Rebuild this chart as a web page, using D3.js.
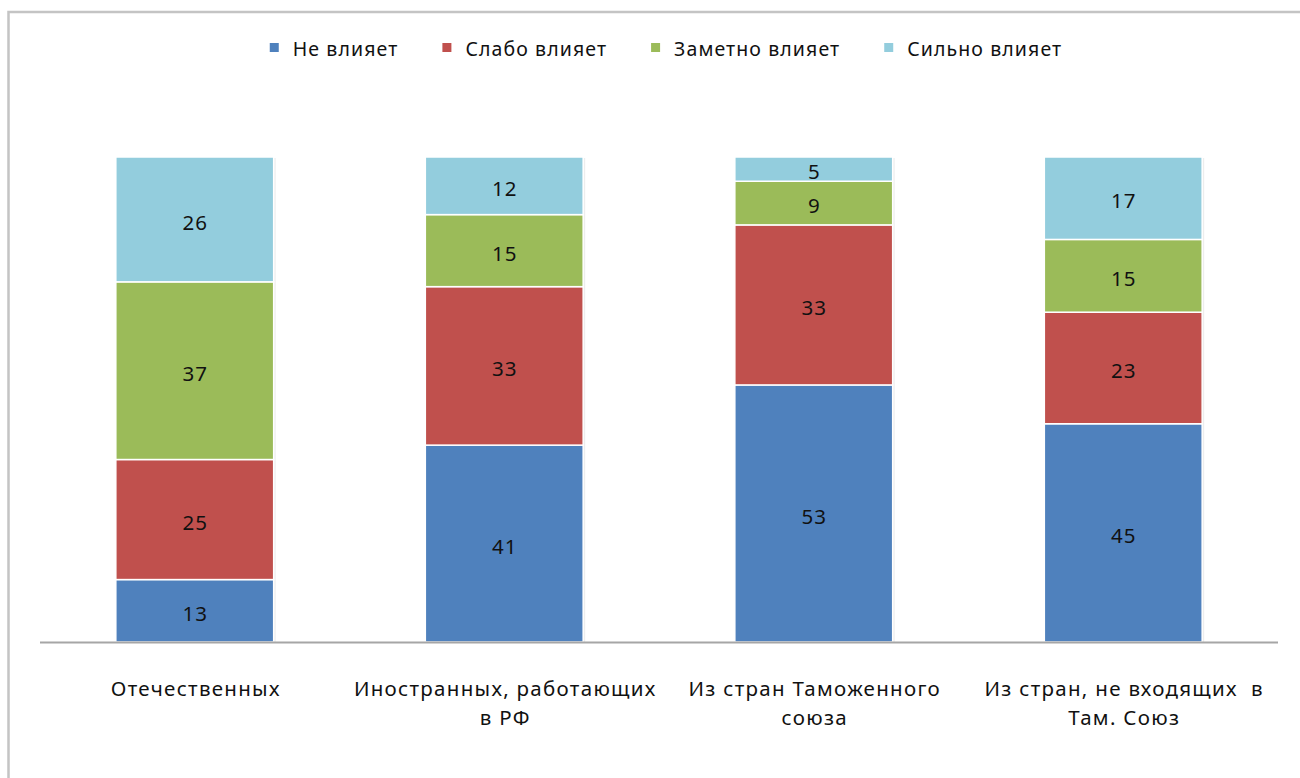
<!DOCTYPE html>
<html>
<head>
<meta charset="utf-8">
<script src="https://cdn.jsdelivr.net/npm/d3@7"></script>
<style>
  html, body { margin: 0; padding: 0; background: #fff; }
  svg { display: block; }
  text { font-family: "Noto Sans", "DejaVu Sans", sans-serif; fill: #111; }
</style>
</head>
<body>
<svg id="chart" width="1300" height="778"></svg>
<script>
// ---- data ----
const categories = ["Отечественных", "Иностранных, работающих в РФ", "Из стран Таможенного союза", "Из стран, не входящих в Там. Союз"];
const categoryLines = [["Отечественных"], ["Иностранных, работающих", "в РФ"], ["Из стран Таможенного", "союза"], ["Из стран, не входящих  в", "Там. Союз"]];
const seriesNames = ["Не влияет", "Слабо влияет", "Заметно влияет", "Сильно влияет"];
const seriesColors = ["#4F81BD", "#C0504D", "#9BBB59", "#93CDDD"];
const neVliyaet = [13, 41, 53, 45];
const slaboVliyaet = [25, 33, 33, 23];
const zametnoVliyaet = [37, 15, 9, 15];
const silnoVliyaet = [26, 12, 5, 17];
const seriesValues = [neVliyaet, slaboVliyaet, zametnoVliyaet, silnoVliyaet];

// ---- build ----
const svg = d3.select("#chart");

// frame
svg.append("rect").attr("x", 8.5).attr("y", 12).attr("width", 1400).attr("height", 900)
  .attr("fill", "none").attr("stroke", "#c4c4c4").attr("stroke-width", 2.5);

const x = d3.scaleBand().domain(categories).range([40, 1278]).paddingInner(0.49).paddingOuter(0.245);
const y = d3.scaleLinear().domain([0, 1]).range([642, 157]);

const rows = categories.map((c, i) => {
  const r = { cat: c };
  seriesNames.forEach((s, j) => r[s] = seriesValues[j][i]);
  return r;
});
const stack = d3.stack().keys(seriesNames).offset(d3.stackOffsetExpand);
const stacked = stack(rows);

// shadows
svg.append("g").selectAll("rect").data(rows).join("rect")
  .attr("x", d => x(d.cat) + 2).attr("y", y(1) + 1)
  .attr("width", x.bandwidth()).attr("height", y(0) - y(1) - 1)
  .attr("fill", "#000").attr("opacity", 0.07);

const layers = svg.append("g").selectAll("g").data(stacked).join("g")
  .attr("fill", (d, i) => seriesColors[i]);

layers.selectAll("rect").data(d => d.map(p => ({ p, key: d.key }))).join("rect")
  .attr("x", d => x(d.p.data.cat))
  .attr("y", d => y(d.p[1]))
  .attr("width", x.bandwidth())
  .attr("height", d => y(d.p[0]) - y(d.p[1]))
  .attr("stroke", "#fff").attr("stroke-width", 1.5);

// value labels
layers.selectAll("text").data(d => d.map(p => ({ p, key: d.key }))).join("text")
  .attr("x", d => x(d.p.data.cat) + x.bandwidth() / 2 + 0.5)
  .attr("y", d => (y(d.p[0]) + y(d.p[1])) / 2)
  .attr("dy", "0.5em")
  .attr("text-anchor", "middle")
  .attr("font-size", 20.5)
  .attr("letter-spacing", 1)
  .text(d => d.p.data[d.key]);

// axis line
svg.append("line").attr("x1", 40).attr("x2", 1278).attr("y1", 642.5).attr("y2", 642.5)
  .attr("stroke", "#a6a6a6").attr("stroke-width", 2);

// category labels
const cl = svg.append("g").selectAll("text").data(categories).join("text")
  .attr("x", d => x(d) + x.bandwidth() / 2 + 1)
  .attr("y", 696)
  .attr("text-anchor", "middle")
  .attr("font-size", 20.5)
  .attr("letter-spacing", 1.3)
  .style("white-space", "pre");
cl.selectAll("tspan").data((d, i) => categoryLines[i]).join("tspan")
  .attr("x", function() { return this.parentNode.getAttribute("x"); })
  .attr("dy", (d, i) => i === 0 ? 0 : 29)
  .text(d => d);

// legend
const leg = svg.append("g");
const items = leg.selectAll("g").data(seriesNames).join("g");
items.append("rect").attr("width", 9).attr("height", 9).attr("y", 43)
  .attr("fill", (d, i) => seriesColors[i]);
items.append("text").attr("x", 23).attr("y", 56).attr("font-size", 19.5)
  .attr("letter-spacing", 1.1).text(d => d);
let cursor = 0;
const positions = [];
items.each(function() {
  const w = d3.select(this).select("text").node().getComputedTextLength();
  positions.push(cursor);
  cursor += 23 + w + 44;
});
const total = cursor - 44;
const startX = 666 - total / 2;
items.attr("transform", (d, i) => `translate(${startX + positions[i]},0)`);
</script>
</body>
</html>
